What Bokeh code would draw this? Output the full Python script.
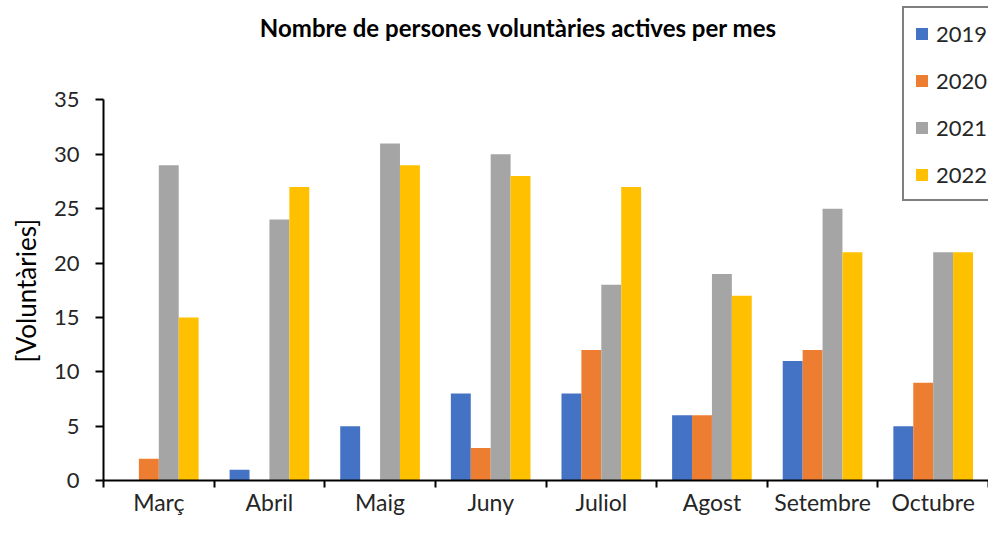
from bokeh.plotting import figure
from bokeh.models import Range1d, FixedTicker, Legend, LegendItem, Label, Title
from bokeh.embed import file_html
from bokeh.resources import INLINE

months = ["Març", "Abril", "Maig", "Juny", "Juliol", "Agost", "Setembre", "Octubre"]
years = ["2019", "2020", "2021", "2022"]
v2019 = [0, 1, 5, 8, 8, 6, 11, 5]
v2020 = [2, 0, 0, 3, 12, 6, 12, 9]
v2021 = [29, 24, 31, 30, 18, 19, 25, 21]
v2022 = [15, 27, 29, 28, 27, 17, 21, 21]
series = [v2019, v2020, v2021, v2022]
colors = ["#4472C4", "#ED7D31", "#A5A5A5", "#FFC000"]
title_text = "Nombre de persones voluntàries actives per mes"
y_label = "[Voluntàries]"
y_max = 35

FONT = "Lato"

# layout (pixels)
W, H = 988, 518
LEFT, BOTTOM, AXIS_TOP = 97, 35, 100
frame_w, frame_h = W - LEFT, H - BOTTOM
AXIS_H = frame_h - AXIS_TOP
n = len(months)
x_end = n
y_end = y_max * frame_h / AXIS_H

p = figure(width=W, height=H, output_backend="svg", toolbar_location=None,
           x_range=Range1d(0, x_end), y_range=Range1d(0, y_end),
           min_border_left=LEFT, min_border_right=0, min_border_top=0, min_border_bottom=BOTTOM)
p.outline_line_color = None
p.xgrid.visible = False
p.ygrid.visible = False
p.background_fill_color = "white"
p.border_fill_color = "white"

bw = 0.18
offsets = [-0.27, -0.09, 0.09, 0.27]
items = []
for yr, vals, col, off in zip(years, series, colors, offsets):
    xs = [i + 0.5 + off for i in range(n)]
    r = p.vbar(x=xs, top=vals, width=bw, bottom=0, fill_color=col, line_color=None)
    items.append(LegendItem(label=yr, renderers=[r]))

# x axis: labels at centers, ticks at category boundaries
xa = p.xaxis[0]
xa.bounds = (0, n)
xa.ticker = FixedTicker(ticks=[i + 0.5 for i in range(n)],
                        minor_ticks=list(range(n + 1)))
xa.major_label_overrides = {i + 0.5: m for i, m in enumerate(months)}
xa.major_tick_in = 0
xa.major_tick_out = 0
xa.minor_tick_in = 0
xa.minor_tick_out = 7
xa.minor_tick_line_color = "black"
xa.minor_tick_line_width = 2
xa.axis_line_color = "black"
xa.axis_line_width = 2
xa.major_label_text_font = FONT
xa.major_label_text_font_size = "23px"
xa.major_label_text_color = "#262626"
xa.major_label_standoff = 0

ya = p.yaxis[0]
ya.bounds = (0, y_max)
ya.ticker = FixedTicker(ticks=list(range(0, y_max + 1, 5)))
ya.major_tick_in = 0
ya.major_tick_out = 8
ya.minor_tick_in = 0
ya.minor_tick_out = 0
ya.major_tick_line_color = "black"
ya.major_tick_line_width = 2
ya.axis_line_color = "black"
ya.axis_line_width = 2
ya.major_label_text_font = FONT
ya.major_label_text_font_size = "22px"
ya.major_label_text_color = "#262626"
ya.major_label_standoff = 16

# y axis title, placed along the drawn part of the axis
ytitle = Title(text=y_label, align="left", vertical_align="middle", offset=118, standoff=16,
               text_font=FONT, text_font_size="26px", text_font_style="normal", text_color="black")
p.add_layout(ytitle, "left")

legend = Legend(items=items, location=(799, frame_h - 204),
                label_text_font=FONT, label_text_font_size="22px", label_text_color="#262626",
                label_height=30, glyph_height=15, glyph_width=15, label_standoff=7,
                padding=10, spacing=17, margin=0,
                border_line_color="black", border_line_width=2,
                background_fill_color="white", background_fill_alpha=1)
p.add_layout(legend, "center")

title = Label(x=512 - LEFT, y=frame_h - 30, x_units="screen", y_units="screen", text=title_text,
              text_align="center", text_baseline="middle",
              text_font=FONT, text_font_size="24px", text_font_style="bold", text_color="black")
p.add_layout(title)

open("out.html", "w").write(file_html(p, INLINE))
